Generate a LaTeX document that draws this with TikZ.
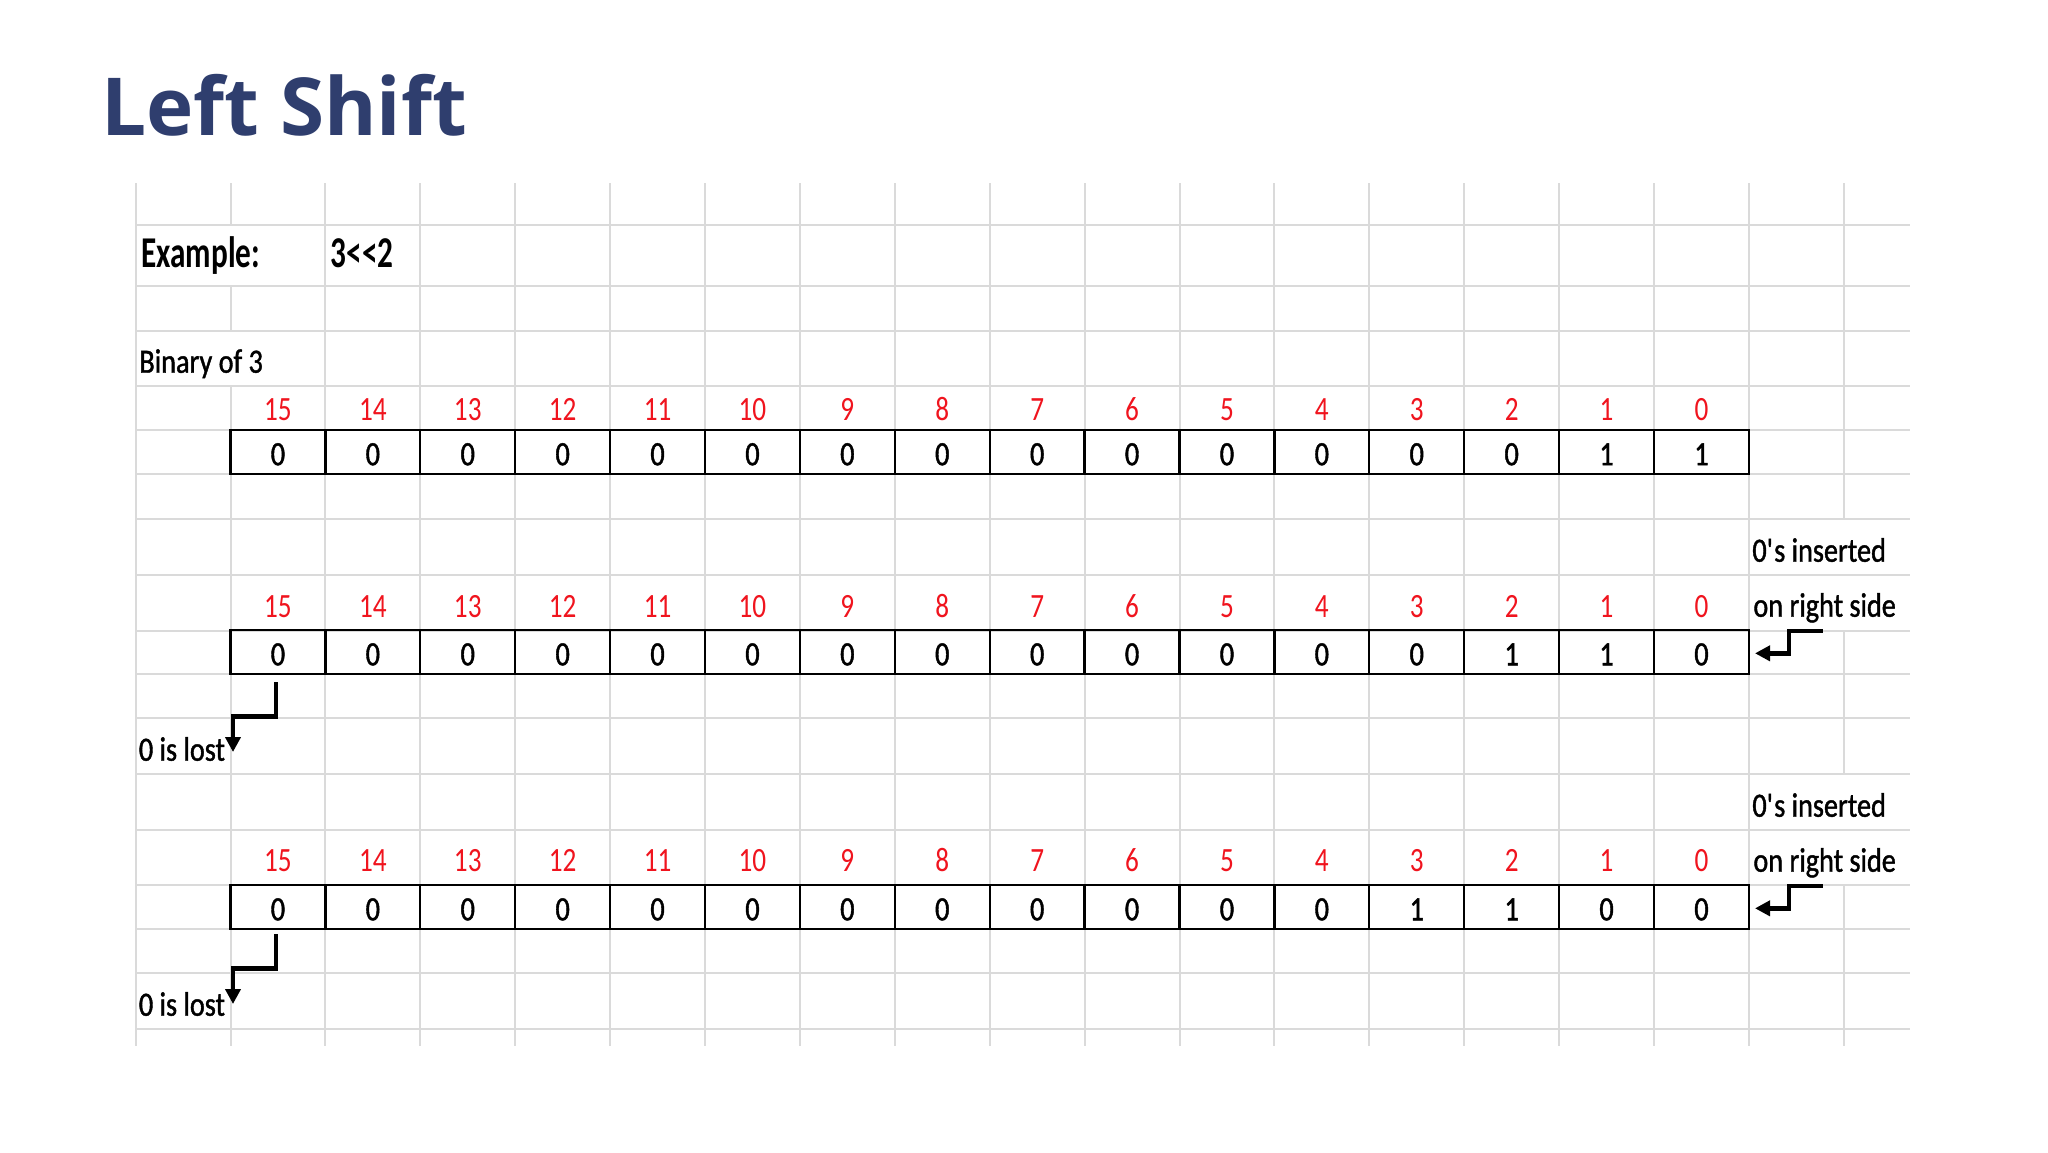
\documentclass[tikz,border=0pt]{standalone}
\usepackage{fontspec}
\setmainfont{Carlito}[FakeStretch=0.8]
\newfontfamily\heavyfont{Carlito}[FakeStretch=0.83,FakeBold=1.2]
\newfontfamily\exfont{Carlito}[FakeStretch=0.71]
\newfontfamily\titlefont{Open Sans}
\usetikzlibrary{arrows.meta}
\definecolor{gridgray}{RGB}{218,218,218}
\definecolor{bitred}{RGB}{240,20,30}
\definecolor{titleblue}{RGB}{47,62,110}
\begin{document}
\begin{tikzpicture}[x=0.5pt,y=-0.5pt,
  gridline/.style={draw=gridgray,line width=1pt},
  cellbox/.style={draw=black,line width=1.15pt,minimum width=47.45pt,minimum height=22pt,
    inner sep=0pt,text height=13pt,text depth=0pt,font=\heavyfont\fontsize{17pt}{20pt}\selectfont},
  bitlabel/.style={anchor=base,inner sep=0pt,text=bitred,font=\fontsize{17pt}{20pt}\selectfont},
  plaintext/.style={anchor=base west,inner sep=0pt,font=\heavyfont\fontsize{17pt}{20pt}\selectfont},
  boldtext/.style={anchor=base west,inner sep=0pt,font=\exfont\bfseries\fontsize{22pt}{26pt}\selectfont},
  shiftarrow/.style={draw=black,line width=2.25pt,line join=miter,-{Triangle[length=7.5pt,width=7.5pt]}}
]
\useasboundingbox (0,0) rectangle (2048,1152);
\fill[white] (0,0) rectangle (2048,1152);

% title
\node[anchor=base west,inner sep=0pt,text=titleblue,font=\titlefont\bfseries\fontsize{40pt}{48pt}\selectfont] (title) at (101,135) {Left Shift};

% spreadsheet grid: horizontal lines
\foreach \yy in {225,286,330.5,386,430,474.3,519,575,630.5,674,718.3,774,829.5,885.3,929.3,973.3,1029.3}
  \draw[gridline] (135.6,\yy) -- (1909.6,\yy);
% vertical lines
\foreach \k in {0,2,3,...,17}
  \draw[gridline] ({135.6+94.9*\k},183) -- ({135.6+94.9*\k},1046);
\draw[gridline] (230.5,183) -- (230.5,225);
\draw[gridline] (230.5,286) -- (230.5,330.5);
\draw[gridline] (230.5,386) -- (230.5,1046);
\draw[gridline] (1843.8,183) -- (1843.8,519);
\draw[gridline] (1843.8,630.5) -- (1843.8,774);
\draw[gridline] (1843.8,885.3) -- (1843.8,1046);

% header texts
\node[boldtext] (ex) at (141,267.7) {Example:};
\node[boldtext] (exv) at (330.5,267.7) {3<<2};
\node[plaintext] (bin) at (139,372.7) {Binary of 3};

% bit labels
\foreach \yy/\r in {420.7/1,617.3/2,871.7/3}{
  \foreach \i in {0,...,15}{
    \pgfmathtruncatemacro\b{15-\i}
    \node[bitlabel] (l\r c\b) at ({277.95+94.9*\i},\yy) {\b};
  }
}

% cell boxes
\foreach \v [count=\i from 0] in {0,0,0,0,0,0,0,0,0,0,0,0,0,0,1,1}{
  \pgfmathtruncatemacro\b{15-\i}
  \node[cellbox] (b1c\b) at ({277.95+94.9*\i},452.2) {\v};
}
\foreach \v [count=\i from 0] in {0,0,0,0,0,0,0,0,0,0,0,0,0,1,1,0}{
  \pgfmathtruncatemacro\b{15-\i}
  \node[cellbox] (b2c\b) at ({277.95+94.9*\i},652.3) {\v};
}
\foreach \v [count=\i from 0] in {0,0,0,0,0,0,0,0,0,0,0,0,1,1,0,0}{
  \pgfmathtruncatemacro\b{15-\i}
  \node[cellbox] (b3c\b) at ({277.95+94.9*\i},907.3) {\v};
}

% side notes
\node[plaintext] (ins1a) at (1752,561.7) {0\textquotesingle s inserted};
\node[plaintext] (ins1b) at (1753,616.7) {on right side};
\node[plaintext] (ins2a) at (1752,816.7) {0\textquotesingle s inserted};
\node[plaintext] (ins2b) at (1753,871.7) {on right side};
\node[plaintext] (lost1) at (138.5,760.7) {0 is lost};
\node[plaintext] (lost2) at (138.5,1015.7) {0 is lost};

% arrows: bit lost on the left
\coordinate (a1s) at (276,682);
\coordinate (a1m) at (276,716.7);
\coordinate (a1n) at (233,716.7);
\coordinate (a1e) at (233,752);
\draw[shiftarrow] (a1s) -- (a1m) -- (a1n) -- (a1e);
\coordinate (a2s) at (276,934);
\coordinate (a2m) at (276,968.5);
\coordinate (a2n) at (233,968.5);
\coordinate (a2e) at (233,1004);
\draw[shiftarrow] (a2s) -- (a2m) -- (a2n) -- (a2e);

% arrows: zeros inserted on the right
\coordinate (i1s) at (1822.7,631);
\coordinate (i1m) at (1789,631);
\coordinate (i1n) at (1789,653.3);
\coordinate (i1e) at (1755,653.3);
\draw[shiftarrow] (i1s) -- (i1m) -- (i1n) -- (i1e);
\coordinate (i2s) at (1822.7,886);
\coordinate (i2m) at (1789,886);
\coordinate (i2n) at (1789,908.3);
\coordinate (i2e) at (1755,908.3);
\draw[shiftarrow] (i2s) -- (i2m) -- (i2n) -- (i2e);
\end{tikzpicture}
\end{document}
